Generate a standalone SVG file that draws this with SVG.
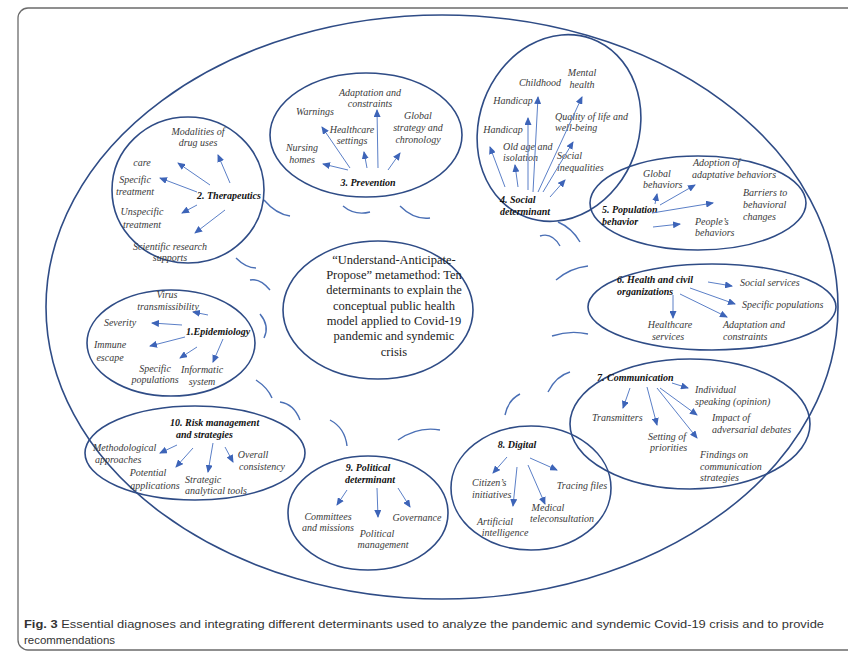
<svg xmlns="http://www.w3.org/2000/svg" width="848" height="657" viewBox="0 0 848 657">
<defs>
<marker id="ah" markerWidth="8" markerHeight="7" refX="7" refY="3.5" orient="auto" markerUnits="userSpaceOnUse">
<path d="M0,0 L8,3.5 L0,7 Z" fill="#3d64b8"/>
</marker>
<style>
.el{fill:none;stroke:#2f4c86;stroke-width:1.6}
.arc{fill:none;stroke:#4a6fb5;stroke-width:1.4}
.ar{fill:none;stroke:#5b7fc7;stroke-width:1;marker-end:url(#ah)}
.t{font-family:"Liberation Serif","Times New Roman",serif;font-style:italic;font-size:10px;fill:#3a3a3a}
.m{text-anchor:middle}
.b{font-family:"Liberation Serif","Times New Roman",serif;font-style:italic;font-weight:bold;font-size:10px;fill:#111}
.c{font-family:"Liberation Serif","Times New Roman",serif;font-size:12.5px;fill:#222;text-anchor:middle}
.cap{font-family:"Liberation Sans",Arial,sans-serif;font-size:11.8px;fill:#333}
</style>
</defs>
<rect width="848" height="657" fill="#fff"/>
<rect x="18" y="8" width="850" height="642" rx="10" fill="none" stroke="#6b6b6b" stroke-width="1.3"/>
<g id="outer"><ellipse class="el" cx="442" cy="307" rx="396" ry="292"/></g>

<g id="connectors">
<path class="arc" d="M264,200 Q276,214 290,216"/>
<path class="arc" d="M343,206 Q355,216 370,212"/>
<path class="arc" d="M400,206 Q414,220 430,218"/>
<path class="arc" d="M558,222 Q572,228 580,242"/>
<path class="arc" d="M236,258 Q246,268 256,268"/>
<path class="arc" d="M250,280 Q260,278 270,290"/>
<path class="arc" d="M260,314 Q270,326 264,338"/>
<path class="arc" d="M256,380 Q268,388 272,398"/>
<path class="arc" d="M280,402 Q294,404 300,420"/>
<path class="arc" d="M330,420 Q345,428 347,446"/>
<path class="arc" d="M398,440 Q418,426 440,430"/>
<path class="arc" d="M505,415 Q508,400 520,394"/>
<path class="arc" d="M548,392 Q556,376 570,372"/>
<path class="arc" d="M556,280 Q570,268 588,266"/>
<path class="arc" d="M552,336 Q570,330 588,334"/>
<path class="arc" d="M540,236 Q552,232 560,246"/>
</g>

<g id="center">
<ellipse class="el" cx="378" cy="310" rx="95" ry="69"/>
<text class="c" x="394" y="264">“Understand-Anticipate-</text>
<text class="c" x="394" y="279">Propose” metamethod: Ten</text>
<text class="c" x="394" y="294">determinants to explain the</text>
<text class="c" x="394" y="310">conceptual public health</text>
<text class="c" x="394" y="325">model applied to Covid-19</text>
<text class="c" x="394" y="340">pandemic and syndemic</text>
<text class="c" x="394" y="356">crisis</text>
</g>

<g id="epidemiology">
<ellipse class="el" cx="171" cy="343" rx="84" ry="53"/>
<text class="t m" x="167" y="298">Virus</text>
<text class="t m" x="168" y="310">transmissibility</text>
<text class="t m" x="120" y="326">Severity</text>
<text class="b" x="186" y="335">1.Epidemiology</text>
<text class="t m" x="110" y="348">Immune</text>
<text class="t m" x="110" y="361">escape</text>
<text class="t m" x="155" y="372">Specific</text>
<text class="t m" x="155" y="383">populations</text>
<text class="t m" x="202" y="373">Informatic</text>
<text class="t m" x="202" y="385">system</text>
<path class="ar" d="M208,315 L193,312"/>
<path class="ar" d="M182,325 L152,323"/>
<path class="ar" d="M185,337 L150,346"/>
<path class="ar" d="M197,347 L180,358"/>
<path class="ar" d="M223,339 L213,362"/>
</g>

<g id="therapeutics">
<ellipse class="el" cx="188" cy="190" rx="76" ry="73"/>
<text class="t m" x="198" y="135">Modalities of</text>
<text class="t m" x="198" y="146">drug uses</text>
<text class="t m" x="142" y="166">care</text>
<text class="t m" x="135" y="183">Specific</text>
<text class="t m" x="135" y="195">treatment</text>
<text class="b" x="197" y="199">2. Therapeutics</text>
<text class="t m" x="142" y="215">Unspecific</text>
<text class="t m" x="142" y="228">treatment</text>
<text class="t m" x="170" y="250">Scientific research</text>
<text class="t m" x="170" y="261">supports</text>
<path class="ar" d="M230,183 L218,155"/>
<path class="ar" d="M210,185 L178,163"/>
<path class="ar" d="M197,192 L160,178"/>
<path class="ar" d="M197,205 L182,213"/>
<path class="ar" d="M225,210 L195,233"/>
</g>

<g id="prevention">
<ellipse class="el" cx="366" cy="135" rx="96" ry="62"/>
<text class="t m" x="370" y="96">Adaptation and</text>
<text class="t m" x="370" y="107">constraints</text>
<text class="t m" x="315" y="115">Warnings</text>
<text class="t m" x="352" y="133">Healthcare</text>
<text class="t m" x="352" y="144">settings</text>
<text class="t m" x="418" y="119">Global</text>
<text class="t m" x="418" y="131">strategy and</text>
<text class="t m" x="418" y="143">chronology</text>
<text class="t m" x="302" y="151">Nursing</text>
<text class="t m" x="302" y="163">homes</text>
<text class="b m" x="368" y="186">3. Prevention</text>
<path class="ar" d="M350,168 L322,127"/>
<path class="ar" d="M348,170 L323,164"/>
<path class="ar" d="M367,168 L364,152"/>
<path class="ar" d="M378,168 L377,110"/>
<path class="ar" d="M388,170 L400,153"/>
</g>

<g id="social">
<ellipse class="el" cx="559" cy="128" rx="80" ry="95" transform="rotate(20 559 128)"/>
<text class="t m" x="540" y="86">Childhood</text>
<text class="t m" x="582" y="76">Mental</text>
<text class="t m" x="582" y="88">health</text>
<text class="t m" x="513" y="104">Handicap</text>
<text class="t" x="555" y="120">Quality of life and</text>
<text class="t" x="555" y="131">well-being</text>
<text class="t m" x="503" y="133">Handicap</text>
<text class="t" x="503" y="150">Old age and</text>
<text class="t" x="503" y="161">isolation</text>
<text class="t" x="557" y="159">Social</text>
<text class="t" x="557" y="171">inequalities</text>
<text class="b" x="500" y="203">4. Social</text>
<text class="b" x="500" y="215">determinant</text>
<path class="ar" d="M505,187 L490,147"/>
<path class="ar" d="M518,187 L515,165"/>
<path class="ar" d="M528,190 L528,118"/>
<path class="ar" d="M533,192 L538,97"/>
<path class="ar" d="M538,192 L582,97"/>
<path class="ar" d="M543,192 L573,142"/>
<path class="ar" d="M550,197 L565,180"/>
</g>

<g id="population">
<ellipse class="el" cx="698" cy="203" rx="108" ry="47"/>
<text class="t" x="643" y="177">Global</text>
<text class="t" x="643" y="188">behaviors</text>
<text class="t" x="693" y="166">Adoption of</text>
<text class="t" x="692" y="178">adaptative behaviors</text>
<text class="t" x="743" y="196">Barriers to</text>
<text class="t" x="743" y="208">behavioral</text>
<text class="t" x="743" y="220">changes</text>
<text class="b" x="602" y="213">5. Population</text>
<text class="b" x="602" y="225">behavior</text>
<text class="t" x="695" y="225">People’s</text>
<text class="t" x="695" y="236">behaviors</text>
<path class="ar" d="M655,204 L657,194"/>
<path class="ar" d="M660,205 L695,185"/>
<path class="ar" d="M652,213 L713,203"/>
<path class="ar" d="M653,227 L680,224"/>
</g>

<g id="health">
<ellipse class="el" cx="712" cy="307" rx="124" ry="43"/>
<text class="b" x="617" y="283">6. Health and civil</text>
<text class="b" x="617" y="295">organizations</text>
<text class="t" x="740" y="286">Social services</text>
<text class="t" x="742" y="308">Specific populations</text>
<text class="t m" x="670" y="328">Healthcare</text>
<text class="t m" x="668" y="340">services</text>
<text class="t" x="723" y="328">Adaptation and</text>
<text class="t" x="723" y="340">constraints</text>
<path class="ar" d="M708,282 L732,286"/>
<path class="ar" d="M690,288 L735,304"/>
<path class="ar" d="M673,295 L673,318"/>
<path class="ar" d="M680,294 L727,317"/>
</g>

<g id="communication">
<ellipse class="el" cx="690" cy="424" rx="120" ry="65"/>
<text class="b" x="597" y="381">7. Communication</text>
<text class="t" x="695" y="393">Individual</text>
<text class="t" x="695" y="405">speaking (opinion)</text>
<text class="t" x="592" y="421">Transmitters</text>
<text class="t" x="712" y="421">Impact of</text>
<text class="t" x="712" y="433">adversarial debates</text>
<text class="t" x="648" y="440">Setting of</text>
<text class="t" x="650" y="451">priorities</text>
<text class="t" x="700" y="458">Findings on</text>
<text class="t" x="700" y="470">communication</text>
<text class="t" x="700" y="481">strategies</text>
<path class="ar" d="M672,383 L688,388"/>
<path class="ar" d="M630,388 L623,408"/>
<path class="ar" d="M647,387 L657,425"/>
<path class="ar" d="M660,388 L697,415"/>
<path class="ar" d="M657,388 L697,438"/>
</g>

<g id="digital">
<ellipse class="el" cx="531" cy="488" rx="80" ry="62"/>
<text class="b m" x="517" y="448">8. Digital</text>
<text class="t" x="472" y="486">Citizen’s</text>
<text class="t" x="472" y="498">initiatives</text>
<text class="t m" x="582" y="489">Tracing files</text>
<text class="t m" x="548" y="511">Medical</text>
<text class="t m" x="562" y="522">teleconsultation</text>
<text class="t m" x="495" y="525">Artificial</text>
<text class="t m" x="505" y="536">intelligence</text>
<path class="ar" d="M507,457 L493,473"/>
<path class="ar" d="M517,467 L513,506"/>
<path class="ar" d="M528,465 L545,504"/>
<path class="ar" d="M530,458 L557,470"/>
</g>

<g id="political">
<ellipse class="el" cx="368" cy="513" rx="80" ry="57"/>
<text class="b m" x="368" y="471">9. Political</text>
<text class="b m" x="370" y="483">determinant</text>
<text class="t m" x="328" y="520">Committees</text>
<text class="t m" x="328" y="531">and missions</text>
<text class="t m" x="417" y="521">Governance</text>
<text class="t m" x="377" y="537">Political</text>
<text class="t m" x="383" y="548">management</text>
<path class="ar" d="M347,490 L337,505"/>
<path class="ar" d="M377,488 L378,517"/>
<path class="ar" d="M398,488 L410,507"/>
</g>

<g id="risk">
<ellipse class="el" cx="195" cy="453" rx="110" ry="47"/>
<text class="b" x="170" y="426">10. Risk management</text>
<text class="b" x="176" y="438">and strategies</text>
<text class="t" x="93" y="451">Methodological</text>
<text class="t" x="95" y="463">approaches</text>
<text class="t m" x="253" y="458">Overall</text>
<text class="t m" x="262" y="470">consistency</text>
<text class="t m" x="148" y="476">Potential</text>
<text class="t m" x="155" y="489">applications</text>
<text class="t" x="185" y="483">Strategic</text>
<text class="t" x="185" y="494">analytical tools</text>
<path class="ar" d="M177,445 L160,453"/>
<path class="ar" d="M193,448 L176,467"/>
<path class="ar" d="M213,443 L208,472"/>
<path class="ar" d="M225,447 L233,462"/>
</g>

<g id="caption">
<text class="cap" x="24" y="628" textLength="800" lengthAdjust="spacingAndGlyphs"><tspan font-weight="bold">Fig. 3</tspan>  Essential diagnoses and integrating different determinants used to analyze the pandemic and syndemic Covid-19 crisis and to provide</text>
<text class="cap" x="24" y="644" textLength="91" lengthAdjust="spacingAndGlyphs">recommendations</text>
</g>
</svg>
